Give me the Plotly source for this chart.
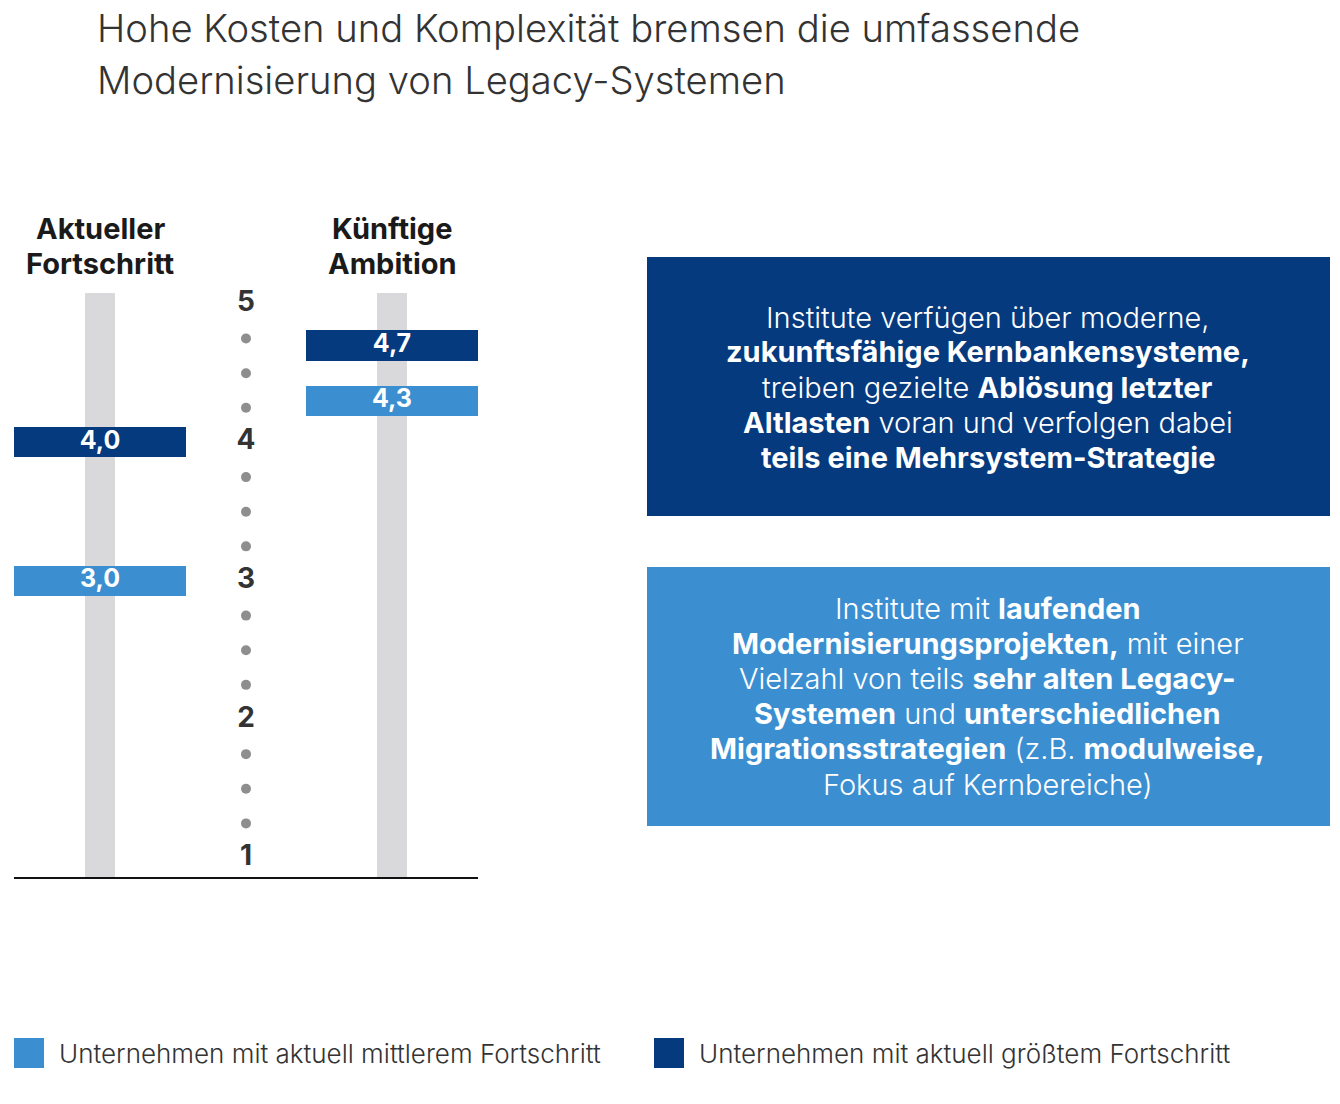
import plotly.graph_objects as go

# ---------------- data ----------------
column_titles = [["Aktueller", "Fortschritt"], ["Künftige", "Ambition"]]
column_x = [0, 2]
scale_x = 1
mid_values = [3.0, 4.3]          # Unternehmen mit aktuell mittlerem Fortschritt
mid_labels = ["3,0", "4,3"]
top_values = [4.0, 4.7]          # Unternehmen mit aktuell größtem Fortschritt
top_labels = ["4,0", "4,7"]
scale_ticks = [1, 2, 3, 4, 5]
scale_tick_labels = ["1", "2", "3", "4", "5"]
scale_dots = [1.25, 1.5, 1.75, 2.25, 2.5, 2.75, 3.25, 3.5, 3.75, 4.25, 4.5, 4.75]
legend_names = ["Unternehmen mit aktuell mittlerem Fortschritt",
                "Unternehmen mit aktuell größtem Fortschritt"]

title_lines = ["Hohe Kosten und Komplexität bremsen die umfassende",
               "Modernisierung von Legacy-Systemen"]
box_top_lines = ["Institute verfügen über moderne,",
                 "<b>zukunftsfähige Kernbankensysteme,</b>",
                 "treiben gezielte <b>Ablösung letzter</b>",
                 "<b>Altlasten</b> voran und verfolgen dabei",
                 "<b>teils eine Mehrsystem-Strategie</b>"]
box_mid_lines = ["Institute mit <b>laufenden</b>",
                 "<b>Modernisierungsprojekten,</b> mit einer",
                 "Vielzahl von teils <b>sehr alten Legacy-</b>",
                 "<b>Systemen</b> und <b>unterschiedlichen</b>",
                 "<b>Migrationsstrategien</b> (z.B. <b>modulweise,</b>",
                 "Fokus auf Kernbereiche)"]

# ---------------- style ----------------
W, H = 1340, 1104
DARK = "#063a7e"
LIGHT = "#3b8fd1"
GRAY = "#d9d9dc"
DOT = "#8e8e8e"
TXT = "#333333"
FONT = "Inter"

Y_MIN, Y_MAX = 0.863, 5.079
X_MIN, X_MAX = -0.589, 2.589
BOX_H = 0.217
BOX_W = 1.178
TRACK_W = 0.205


def px(x):
    return x / W


def py(y):
    return 1 - y / H


fig = go.Figure()

# gray tracks
fig.add_trace(go.Bar(x=column_x, y=[Y_MAX - Y_MIN] * len(column_x), base=[Y_MIN] * len(column_x),
                     width=TRACK_W, marker=dict(color=GRAY, line_width=0),
                     showlegend=False, hoverinfo="skip"))
# marker boxes
fig.add_trace(go.Bar(x=column_x, y=[BOX_H] * len(mid_values), base=[v - BOX_H / 2 for v in mid_values],
                     width=BOX_W, marker=dict(color=LIGHT, line_width=0),
                     name=legend_names[0], showlegend=False))
fig.add_trace(go.Bar(x=column_x, y=[BOX_H] * len(top_values), base=[v - BOX_H / 2 for v in top_values],
                     width=BOX_W, marker=dict(color=DARK, line_width=0),
                     name=legend_names[1], showlegend=False))
# value labels
fig.add_trace(go.Scatter(x=column_x + column_x, y=mid_values + top_values, mode="text",
                         text=mid_labels + top_labels, textposition="middle center",
                         textfont=dict(color="white", size=25, family=FONT, weight="bold"),
                         showlegend=False, hoverinfo="skip", cliponaxis=False))
# scale
fig.add_trace(go.Scatter(x=[scale_x] * len(scale_dots), y=scale_dots, mode="markers",
                         marker=dict(color=DOT, size=10), showlegend=False, hoverinfo="skip"))
fig.add_trace(go.Scatter(x=[scale_x] * len(scale_ticks), y=scale_ticks, mode="text",
                         text=scale_tick_labels, textposition="middle center",
                         textfont=dict(color=TXT, size=28, family=FONT, weight="bold"),
                         showlegend=False, hoverinfo="skip", cliponaxis=False))

annotations = []


def add_line(text, x, y, size, color, weight=300, anchor="center", xref="paper"):
    annotations.append(dict(x=x, xref=xref, y=py(y), yref="paper", text=text, showarrow=False,
                            xanchor=anchor, yanchor="middle", borderpad=0,
                            font=dict(size=size, color=color, family=FONT, weight=weight)))


# column headers
for cx, lines in zip(column_x, column_titles):
    for i, t in enumerate(lines):
        add_line(t, cx, 228 + 35 * i, 29, "#1a1a1a", weight="bold", xref="x")
# title
for i, t in enumerate(title_lines):
    add_line(t, px(96), 28 + 52 * i, 38.2, TXT, weight=300, anchor="left")
# text boxes
for i, t in enumerate(box_top_lines):
    add_line(t, px(988), 317 + 35 * i, 29, "white")
for i, t in enumerate(box_mid_lines):
    add_line(t, px(988), 608 + 35.2 * i, 29, "white")
# legend texts
add_line(legend_names[0], px(58), 1053, 26, TXT, anchor="left")
add_line(legend_names[1], px(698), 1053, 26, TXT, anchor="left")

shapes = [
    dict(type="rect", xref="paper", yref="paper", x0=px(647), x1=px(1330), y0=py(516), y1=py(257),
         fillcolor=DARK, line_width=0, layer="below"),
    dict(type="rect", xref="paper", yref="paper", x0=px(647), x1=px(1330), y0=py(826), y1=py(567),
         fillcolor=LIGHT, line_width=0, layer="below"),
    dict(type="rect", xref="paper", yref="paper", x0=px(14), x1=px(44), y0=py(1068), y1=py(1038),
         fillcolor=LIGHT, line_width=0),
    dict(type="rect", xref="paper", yref="paper", x0=px(654), x1=px(684), y0=py(1068), y1=py(1038),
         fillcolor=DARK, line_width=0),
]

fig.update_layout(
    width=W, height=H, margin=dict(l=0, r=0, t=0, b=0),
    paper_bgcolor="white", plot_bgcolor="white",
    barmode="overlay", bargap=0,
    showlegend=False,
    annotations=annotations, shapes=shapes,
    xaxis=dict(domain=[px(14), px(478)], range=[X_MIN, X_MAX], showgrid=False, zeroline=False,
               showticklabels=False, ticks="", showline=True, linecolor="#111111", linewidth=2,
               fixedrange=True),
    yaxis=dict(domain=[py(877), py(293)], range=[Y_MIN, Y_MAX], showgrid=False, zeroline=False,
               showticklabels=False, ticks="", showline=False, fixedrange=True),
    font=dict(family=FONT),
)

fig.write_html("out.html", config={"displayModeBar": False},
               post_script="document.body.style.margin='0px';")
